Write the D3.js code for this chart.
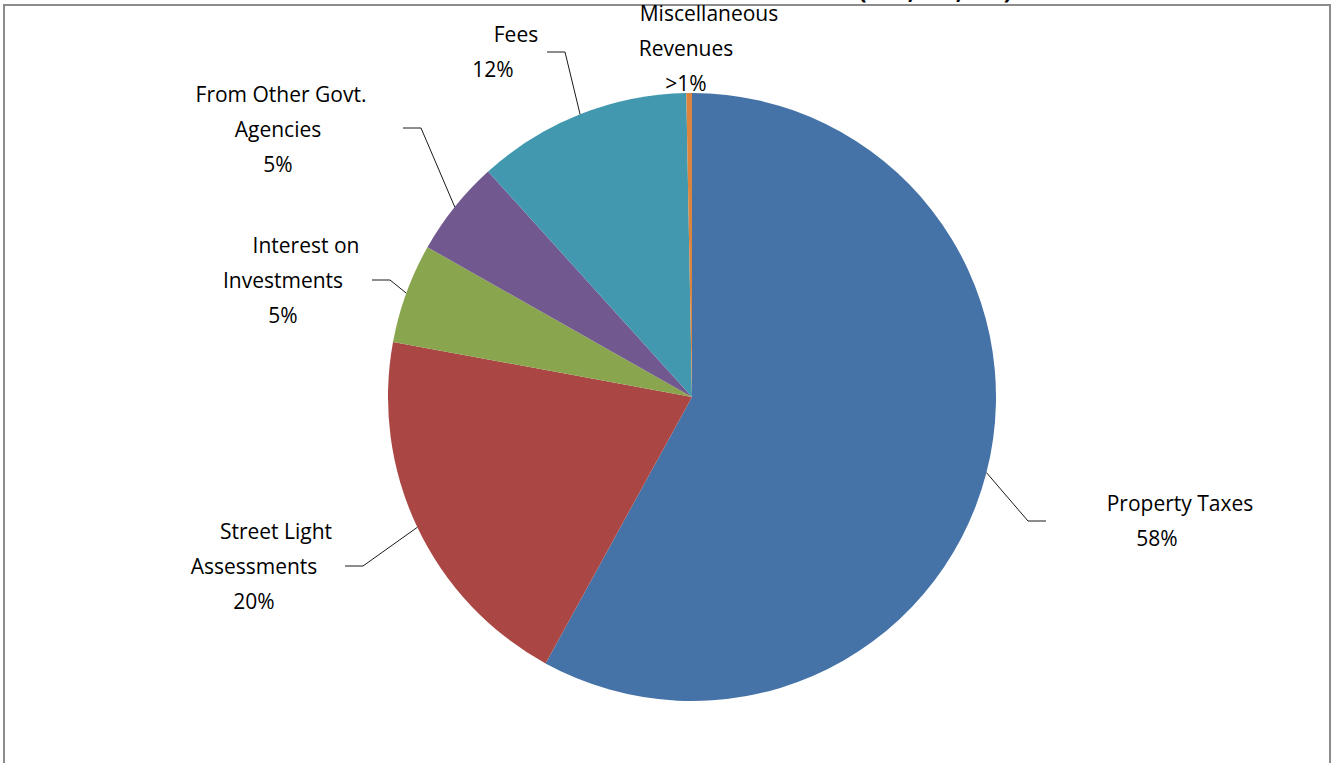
<!DOCTYPE html>
<html>
<head>
<meta charset="utf-8">
<script src="https://cdn.jsdelivr.net/npm/d3@7"></script>
<style>
  body { margin: 0; background: #fff; }
  text { font-family: "Open Sans", Lato, sans-serif; }
</style>
</head>
<body>
<svg id="chart"></svg>
<script>
// slice values (percent of total revenue), clockwise from 12 o'clock
var categories = ["Property Taxes", "Street Light Assessments", "Interest on Investments",
                  "From Other Govt. Agencies", "Fees", "Miscellaneous Revenues"];
var values = [58.0, 19.9, 5.3, 5.1, 11.4, 0.3];
var labelLines = [
    ["Property Taxes", "58%"],
    ["Street Light", "Assessments", "20%"],
    ["Interest on", "Investments", "5%"],
    ["From Other Govt.", "Agencies", "5%"],
    ["Fees", "12%"],
    ["Miscellaneous", "Revenues", ">1%"]
];
var colors = ["#4572A7", "#AA4643", "#89A54E", "#71588F", "#4198AF", "#DB843D"];

// label placement: x of each line, baseline of first line, leader end point
var layout = [
    { xs: [1180, 1157], y: 511, end: [1046, 521], dir: 1 },
    { xs: [276, 254, 254], y: 539, end: [345, 566], dir: -1 },
    { xs: [306, 283, 283], y: 253, end: [372, 280], dir: -1 },
    { xs: [281, 278, 278], y: 102, end: [403, 128], dir: -1 },
    { xs: [516, 493], y: 42, end: [547, 52], dir: -1 },
    { xs: [709, 686, 686], y: 21, end: null }
];

(function() {
    var width = 1338, height = 763;
    var cx = 692, cy = 397, radius = 304;
    var lineH = 35;

    var svg = d3.select("#chart")
        .attr("width", width)
        .attr("height", height);

    // title sits mostly above the frame, only descenders show
    svg.append("text")
        .attr("x", 1012)
        .attr("y", -1)
        .attr("text-anchor", "end")
        .style("font-size", "24px")
        .style("font-weight", "bold")
        .text("Revenues ($14,436,700)");

    // chart frame
    svg.append("rect")
        .attr("x", 4)
        .attr("y", 5)
        .attr("width", 1326)
        .attr("height", 800)
        .attr("fill", "none")
        .attr("stroke", "#8c8c8c")
        .attr("stroke-width", 2);

    var data = categories.map((c, i) => ({ name: c, value: values[i], i: i }));

    var pie = d3.pie()
        .sort(null)
        .value(d => d.value);

    var arc = d3.arc()
        .innerRadius(0)
        .outerRadius(radius);

    var g = svg.append("g")
        .attr("transform", `translate(${cx}, ${cy})`);

    var arcs = pie(data);

    g.selectAll("path")
        .data(arcs)
        .enter()
        .append("path")
        .attr("d", arc)
        .attr("fill", d => colors[d.data.i])
        .attr("stroke", "none");

    // leader lines from the arc edge at mid-angle
    arcs.forEach(function(a) {
        var L = layout[a.data.i];
        if (!L.end) return;
        var mid = (a.startAngle + a.endAngle) / 2;
        var x0 = cx + radius * Math.sin(mid),
            y0 = cy - radius * Math.cos(mid);
        var ex = L.end[0], ey = L.end[1];
        var elbowX = ex - L.dir * 18;
        svg.append("polyline")
            .attr("points", `${x0},${y0} ${elbowX},${ey} ${ex},${ey}`)
            .attr("fill", "none")
            .attr("stroke", "#1a1a1a")
            .attr("stroke-width", 1);
    });

    // labels
    labelLines.forEach(function(lines, i) {
        var L = layout[i];
        lines.forEach(function(t, k) {
            svg.append("text")
                .attr("x", L.xs[k])
                .attr("y", L.y + k * lineH)
                .attr("text-anchor", "middle")
                .style("font-size", "21px")
                .style("fill", "#000")
                .text(t);
        });
    });
})();
</script>
</body>
</html>
